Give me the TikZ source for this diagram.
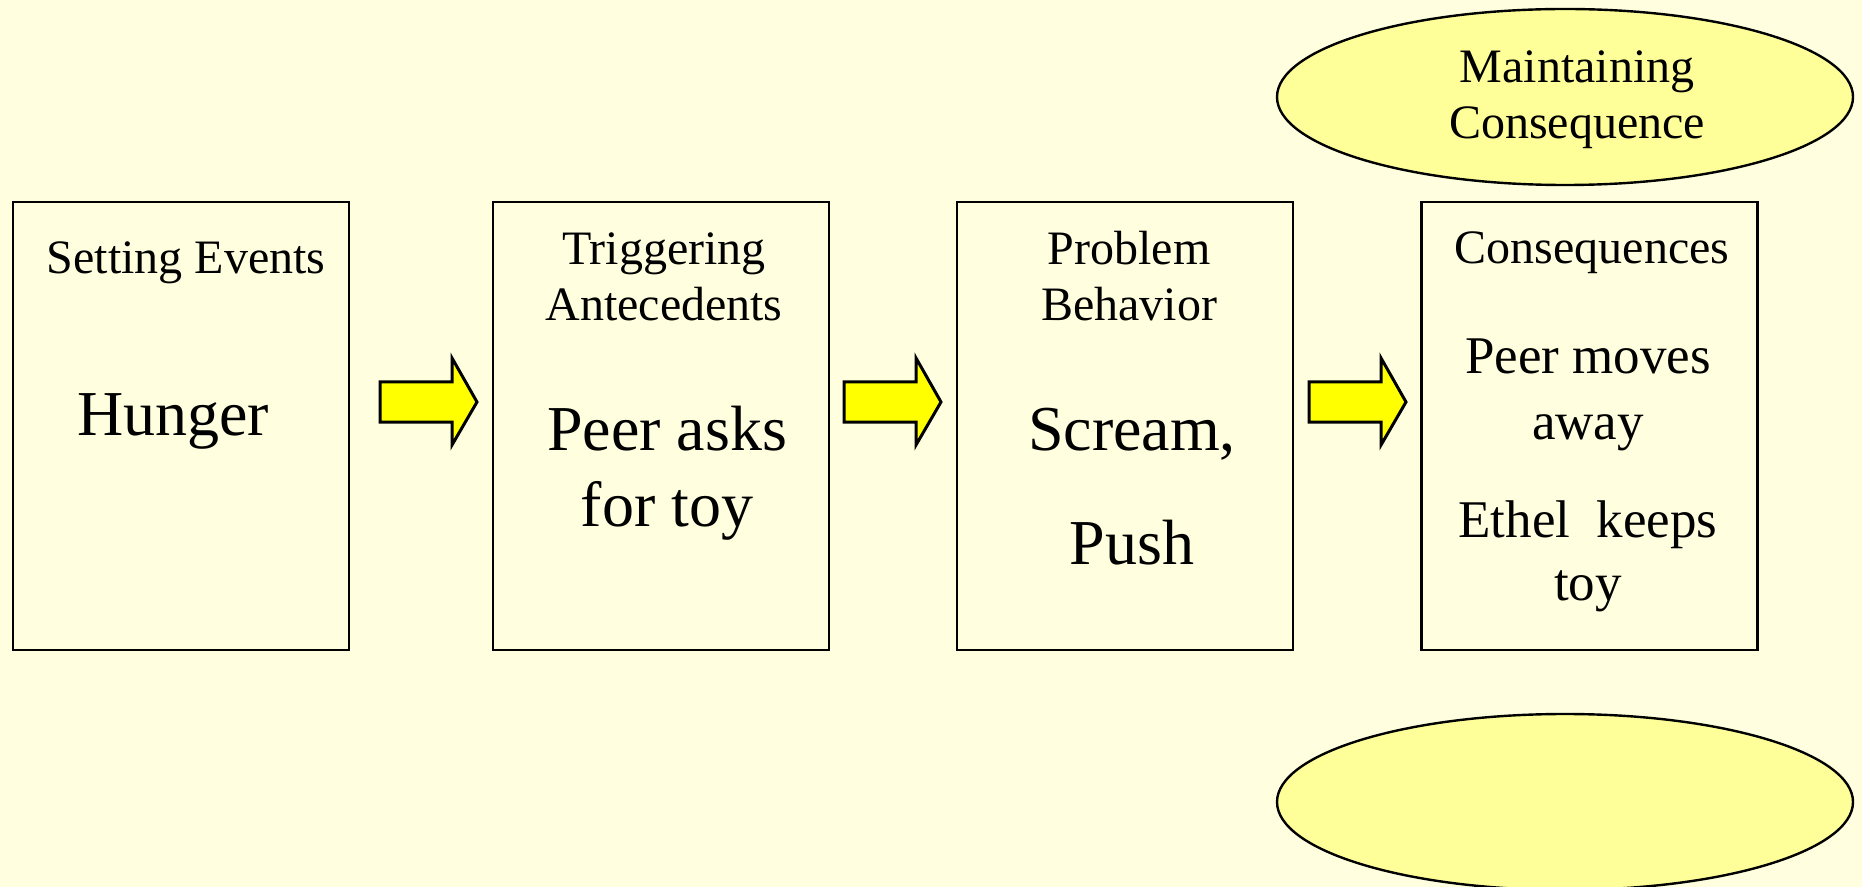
\documentclass[tikz,border=0pt]{standalone}
\usepackage{fontspec}
\setmainfont{Liberation Serif}
\usetikzlibrary{shapes.geometric}
\definecolor{pagebg}{HTML}{FFFFE0}
\definecolor{ovalfill}{HTML}{FFFF99}
\definecolor{arrowyellow}{HTML}{FFFF00}
\tikzset{
  stagebox/.style={draw=black, line width=1.4pt, minimum width=168pt, minimum height=224pt, inner sep=0pt},
  oval/.style={ellipse, draw=black, line width=1.2pt, fill=ovalfill, minimum width=288pt, minimum height=88pt, inner sep=0pt},
  heading/.style={anchor=base, font=\fontsize{24}{28}\selectfont, inner sep=0pt},
  bigtext/.style={anchor=base, font=\fontsize{32}{38}\selectfont, inner sep=0pt},
  midtext/.style={anchor=base, font=\fontsize{26.5}{31}\selectfont, inner sep=0pt},
  arrowbody/.style={draw=black, line width=1.5pt, fill=arrowyellow, line join=miter},
  blockarrow/.pic={\path[arrowbody] (0,-20) -- (72,-20) -- (72,-44) -- (97,0) -- (72,43) -- (72,20) -- (0,20) -- cycle;}
}
\begin{document}
\begin{tikzpicture}[x=0.5pt, y=-0.5pt]
  % page
  \fill[pagebg] (0,0) rectangle (1862,887);
  \useasboundingbox (0,0) rectangle (1862,887);

  % four stage boxes
  \node[stagebox] (setting)  at (181,426)    {};
  \node[stagebox] (trigger)  at (661,426)    {};
  \node[stagebox] (behavior) at (1125,426)   {};
  \node[stagebox] (conseq)   at (1589.5,426) {};

  % headings
  \node[heading] (h1) at (186,274) {Setting Events};
  \node[heading] (h2a) at (664,265) {Triggering};
  \node[heading] (h2b) at (664,321) {Antecedents};
  \node[heading] (h3a) at (1129,265) {Problem};
  \node[heading] (h3b) at (1129,321) {Behavior};
  \node[heading] (h4) at (1592,264) {Consequences};

  % contents
  \node[bigtext] (t1) at (173,436) {Hunger};
  \node[bigtext] (t2a) at (667,451) {Peer asks};
  \node[bigtext] (t2b) at (667,526) {for toy};
  \node[bigtext] (t3a) at (1132,451) {Scream,};
  \node[bigtext] (t3b) at (1132,564) {Push};
  \node[midtext] (t4a) at (1588,374) {Peer moves};
  \node[midtext] (t4b) at (1588,439) {away};
  \node[midtext] (t4c) at (1588,537) {Ethel\ \ keeps};
  \node[midtext] (t4d) at (1588,600) {toy};

  % block arrows between the stages
  \pic at (380,402)  {blockarrow};
  \pic at (844,402)  {blockarrow};
  \pic at (1309,402) {blockarrow};

  % ovals
  \node[oval] (maint) at (1565,97) {};
  \node[heading] (m1) at (1577,83) {Maintaining};
  \node[heading] (m2) at (1577,139) {Consequence};
  \node[oval] (lower) at (1565,802) {};
\end{tikzpicture}
\end{document}
